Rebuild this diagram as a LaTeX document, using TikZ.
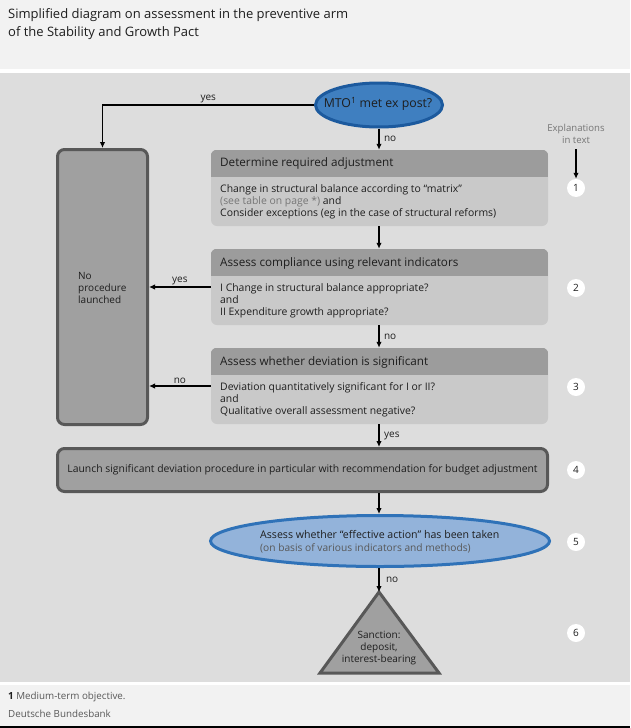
\documentclass[tikz,border=0pt]{standalone}
\usepackage{fontspec}
\setmainfont{Open Sans}
\usetikzlibrary{arrows.meta,shapes.geometric}
\definecolor{headbg}{HTML}{F2F2F2}
\definecolor{panel}{HTML}{DDDDDD}
\definecolor{hdr}{HTML}{9C9C9C}
\definecolor{bodyc}{HTML}{C9C9C9}
\definecolor{txt}{HTML}{1E1E1E}
\definecolor{softtxt}{HTML}{767676}
\definecolor{darkgray}{HTML}{585858}
\definecolor{midgray}{HTML}{A0A0A0}
\definecolor{blueA}{HTML}{3F7FC0}
\definecolor{blueAd}{HTML}{1C5A9E}
\definecolor{blueB}{HTML}{93B3DA}
\definecolor{blueBd}{HTML}{2F72B8}
\begin{document}
\begin{tikzpicture}[x=1pt,y=-1pt,
  every node/.style={text=txt},
  arr/.style={draw=black,line width=1.2pt,-{Latex[length=6pt,width=5.5pt]}},
  lbl/.style={font=\fontsize{10}{11}\selectfont,inner sep=1.5pt},
  stepbox/.style={draw=none,fill=bodyc,rounded corners=6pt,minimum width=337pt,minimum height=76pt,inner sep=0pt},
  hdrtext/.style={anchor=west,font=\fontsize{11.7}{13}\selectfont,inner sep=0pt},
  bodytext/.style={anchor=west,align=left,font=\fontsize{10.4}{12}\selectfont,inner sep=0pt},
  heavybox/.style={draw=darkgray,line width=3pt,fill=midgray,rounded corners=7pt,inner sep=0pt},
  numc/.style={circle,fill=white,minimum size=18pt,inner sep=0pt,font=\fontsize{10}{11}\selectfont},
]
\useasboundingbox (0,0) rectangle (630,728);
% backgrounds
\fill[headbg] (0,0) rectangle (630,69);
\fill[white] (0,69) rectangle (630,73);
\fill[panel] (0,73) rectangle (630,682);
\fill[white] (0,682) rectangle (630,685);
\fill[headbg] (0,685) rectangle (630,726);
\fill[black] (0,726) rectangle (630,728);
% title
\node[anchor=west,align=left,inner sep=0pt,font=\fontsize{13}{18}\selectfont] (title) at (8,24)
  {Simplified diagram on assessment in the preventive arm\\of the Stability and Growth Pact};
% footer
\node[anchor=west,inner sep=0pt,font=\fontsize{9.8}{11}\selectfont,text=darkgray] (fn) at (8,697)
  {\textbf{\color{txt}1} Medium-term objective.};
\node[anchor=west,inner sep=0pt,font=\fontsize{9.8}{11}\selectfont,text=darkgray] (src) at (8,714)
  {Deutsche Bundesbank};

% MTO ellipse
\node[ellipse,draw=blueAd,line width=3pt,fill=blueA,minimum width=127pt,minimum height=44pt,inner sep=0pt] (mto) at (379,105) {};
\node[inner sep=0pt,font=\fontsize{12.3}{14}\selectfont] (mtot) at (378,104) {MTO\textsuperscript{1} met ex post?};

% step boxes
\foreach \n/\y in {b1/188,b2/287,b3/386}{
  \node[stepbox] (\n) at (379.5,\y) {};
  \begin{scope}
    \clip[rounded corners=6pt] (\n.north west) rectangle (\n.south east);
    \fill[hdr] (\n.north west) rectangle ([yshift=-27pt]\n.north east);
  \end{scope}
}
\node[hdrtext] (h1) at (220,163) {Determine required adjustment};
\node[bodytext] (t1) at (220,202) {Change in structural balance according to “matrix”\\
  {\color{softtxt}(see table on page *)} and\\Consider exceptions (eg in the case of structural reforms)};
\node[hdrtext] (h2) at (220,263) {Assess compliance using relevant indicators};
\node[bodytext] (t2) at (220,301) {I Change in structural balance appropriate?\\and\\II Expenditure growth appropriate?};
\node[hdrtext] (h3) at (220,362) {Assess whether deviation is significant};
\node[bodytext] (t3) at (220,400) {Deviation quantitatively significant for I or II?\\and\\Qualitative overall assessment negative?};

% No procedure box
\node[heavybox,minimum width=90pt,minimum height=275pt] (np) at (102.5,287) {};
\node[anchor=west,align=left,inner sep=0pt,font=\fontsize{10}{11.8}\selectfont] (npt) at (78,288)
  {No\\procedure\\launched};

% launch box
\node[heavybox,minimum width=490pt,minimum height=43pt,font=\fontsize{10.4}{12}\selectfont] (launch) at (302.5,470)
  {Launch significant deviation procedure in particular with recommendation for budget adjustment};

% effective action ellipse
\node[ellipse,draw=blueBd,line width=3pt,fill=blueB,minimum width=339pt,minimum height=51pt,inner sep=0pt] (eff) at (380,541) {};
\node[anchor=west,align=left,inner sep=0pt,font=\fontsize{10.6}{13}\selectfont] (efft) at (260,542)
  {Assess whether “effective action” has been taken\\{\color{darkgray}\fontsize{10.2}{13}\selectfont(on basis of various indicators and methods)}};

% sanction triangle
\coordinate (apex) at (379,592);
\draw[draw=darkgray,line width=3pt,fill=midgray,line join=miter] (apex) -- (439,673) -- (320,673) -- cycle;
\node[align=center,inner sep=0pt,font=\fontsize{10}{12}\selectfont] (sanc) at (379,648)
  {Sanction:\\deposit,\\interest-bearing};

% explanations column
\node[align=center,inner sep=0pt,font=\fontsize{9.6}{12}\selectfont,text=softtxt] (expl) at (576,134)
  {Explanations\\in text};
\node[numc] (c1) at (576,188) {1};
\node[numc] (c2) at (576,288) {2};
\node[numc] (c3) at (576,387) {3};
\node[numc] (c4) at (576,470) {4};
\node[numc] (c5) at (576,542) {5};
\node[numc] (c6) at (576,633) {6};
\coordinate (explb) at (576,149);
\draw[arr] (explb) -- (c1.north);

% connectors
\draw[arr] (mto.west) -| (np.north) node[lbl,pos=0.25,above] {yes};
\draw[arr] (mto.south) -- (mto.south |- b1.north) node[lbl,midway,right,xshift=3pt] {no};
\draw[arr] (b1.south -| mto.south) -- (b2.north -| mto.south);
\draw[arr] (b2.south -| mto.south) -- (b3.north -| mto.south) node[lbl,midway,right,xshift=3pt] {no};
\draw[arr] (b3.south -| mto.south) -- (launch.north -| mto.south) node[lbl,midway,right,xshift=3pt] {yes};
\draw[arr] (launch.south -| mto.south) -- (eff.north -| mto.south);
\draw[arr] (eff.south -| mto.south) -- (apex) node[lbl,midway,right,xshift=5pt] {no};
\draw[arr] (b2.west) -- (np.east) node[lbl,midway,above] {yes};
\draw[arr] (b3.west) -- (np.east |- b3.west) node[lbl,midway,above] {no};
\end{tikzpicture}
\end{document}
